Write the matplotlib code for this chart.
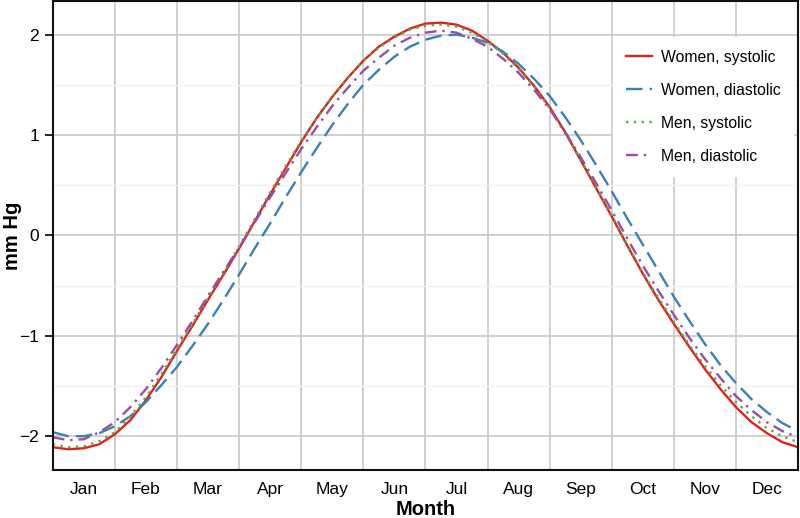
import matplotlib
matplotlib.use('Agg')
import matplotlib.pyplot as plt
import numpy as np

plt.rcParams['font.family'] = ['Liberation Sans', 'DejaVu Sans']
plt.rcParams['axes.unicode_minus'] = True

# month position (0 = start of Jan, 12 = end of Dec), quarter-month steps
month_pos = np.arange(0, 12.01, 0.25)
month_labels = ['Jan', 'Feb', 'Mar', 'Apr', 'May', 'Jun',
                'Jul', 'Aug', 'Sep', 'Oct', 'Nov', 'Dec']

# values (mm Hg)
women_sys = [-2.11, -2.13, -2.12, -2.08, -1.98, -1.84, -1.64, -1.41, -1.15, -0.90, -0.64, -0.39,
             -0.13, 0.14, 0.41, 0.67, 0.93, 1.17, 1.38, 1.57, 1.74, 1.88, 1.98, 2.06,
             2.11, 2.12, 2.10, 2.04, 1.94, 1.82, 1.67, 1.49, 1.28, 1.03, 0.75, 0.47,
             0.19, -0.10, -0.38, -0.64, -0.88, -1.11, -1.33, -1.53, -1.71, -1.86, -1.97, -2.06,
             -2.11]
women_dia = [-1.96, -2.00, -2.00, -1.97, -1.90, -1.80, -1.66, -1.49, -1.31, -1.10, -0.88, -0.64,
             -0.39, -0.13, 0.12, 0.38, 0.63, 0.87, 1.10, 1.31, 1.50, 1.65, 1.78, 1.88,
             1.95, 1.99, 2.00, 1.97, 1.92, 1.83, 1.71, 1.56, 1.39, 1.18, 0.95, 0.70,
             0.44, 0.17, -0.09, -0.35, -0.61, -0.85, -1.08, -1.29, -1.47, -1.63, -1.76, -1.87,
             -1.95]
men_sys = [-2.08, -2.11, -2.10, -2.05, -1.96, -1.80, -1.61, -1.38, -1.13, -0.88, -0.62, -0.37,
           -0.11, 0.16, 0.43, 0.69, 0.94, 1.17, 1.38, 1.57, 1.74, 1.87, 1.97, 2.05,
           2.09, 2.10, 2.08, 2.02, 1.93, 1.81, 1.66, 1.48, 1.27, 1.02, 0.75, 0.48,
           0.20, -0.09, -0.37, -0.62, -0.86, -1.09, -1.30, -1.49, -1.66, -1.80, -1.92, -2.00,
           -2.06]
men_dia = [-2.01, -2.04, -2.03, -1.96, -1.86, -1.71, -1.53, -1.32, -1.09, -0.85, -0.60, -0.36,
           -0.12, 0.13, 0.38, 0.62, 0.86, 1.08, 1.29, 1.47, 1.64, 1.77, 1.89, 1.97,
           2.02, 2.04, 2.02, 1.96, 1.88, 1.76, 1.62, 1.45, 1.26, 1.03, 0.78, 0.52,
           0.25, -0.03, -0.30, -0.55, -0.79, -1.02, -1.23, -1.42, -1.60, -1.74, -1.86, -1.95,
           -2.01]

fig = plt.figure(figsize=(8, 5.18), dpi=100)
ax = fig.add_axes([0.066, 0.093, 0.9315, 0.905])

ax.plot(month_pos, women_sys, color='#e3211c', lw=1.7, ls='-', label='Women, systolic')
ax.plot(month_pos, women_dia, color='#3a80b9', lw=1.7, ls=(0, (7, 3)), label='Women, diastolic')
ax.plot(month_pos, men_sys, color='#4daf4a', lw=1.7, ls=(0, (1, 2.3)), label='Men, systolic')
ax.plot(month_pos, men_dia, color='#984ea3', lw=1.7, ls=(0, (5, 2.5, 1, 2.5)), label='Men, diastolic')

ax.set_xlim(0, 12)
ax.set_ylim(-2.335, 2.335)

# month boundaries as grid, labels in the middle of each month
ax.set_xticks(np.arange(1, 12), minor=False)
ax.set_xticklabels([])
ax.set_xticks(np.arange(0.5, 12, 1), minor=True)
ax.set_xticklabels(month_labels, minor=True, fontsize=12.5)
ax.tick_params(axis='x', which='both', length=0, pad=9)

ax.set_yticks([-2, -1, 0, 1, 2])
ax.set_yticklabels(['\u22122', '\u22121', '0', '1', '2'], fontsize=12.5)
ax.set_yticks(np.arange(-2, 2.1, 0.5), minor=True)
ax.tick_params(axis='y', which='major', length=6, width=1.2, direction='out', pad=4)
ax.tick_params(axis='y', which='minor', length=0)

ax.grid(True, which='major', color='#c8c8c8', lw=1.2)
ax.grid(True, which='minor', axis='y', color='#f2f2f2', lw=1.0)
ax.set_axisbelow(True)

for s in ax.spines.values():
    s.set_linewidth(1.5)
    s.set_color('#111111')

ax.set_xlabel('Month', fontsize=14.5, fontweight='bold', labelpad=2)
ax.set_ylabel('mm Hg', fontsize=14.5, fontweight='bold')
ax.yaxis.set_label_coords(-0.042, 0.5)

leg = ax.legend(loc='upper right', bbox_to_anchor=(1.004, 0.94), fontsize=11.3, frameon=True,
                handlelength=1.7, labelspacing=1.15, borderpad=0.8, handletextpad=0.55)
leg.get_frame().set_edgecolor('white')
leg.get_frame().set_facecolor('white')
leg.get_frame().set_alpha(1.0)
leg.get_frame().set_boxstyle('square', pad=0)

plt.savefig('out.png', dpi=100)
